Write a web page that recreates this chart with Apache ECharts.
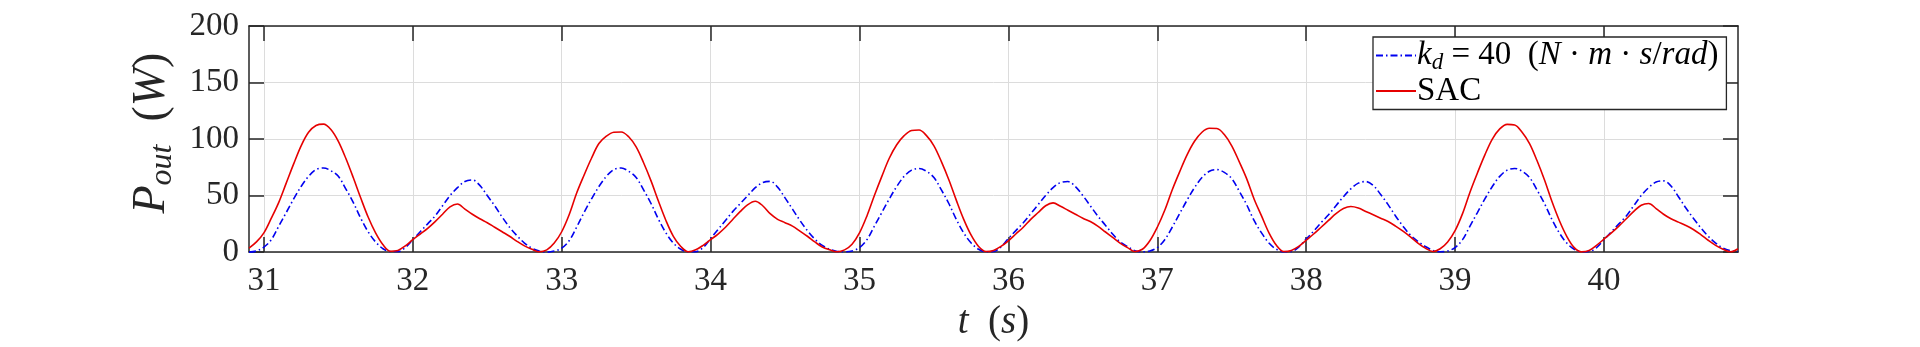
<!DOCTYPE html>
<html>
<head>
<meta charset="utf-8">
<script src="https://cdn.jsdelivr.net/npm/echarts@6/dist/echarts.min.js"></script>
<style>
html,body{margin:0;padding:0;background:#fff;}
#c{width:1920px;height:347px;}
</style>
</head>
<body>
<div id="c"></div>
<script>
// time samples (s)
const time = [
30.9,30.95,31,31.05,31.1,31.15,31.2,31.25,31.3,31.35,31.4,31.45,31.5,31.55,31.6,31.65,31.7,31.75,31.8,31.85,
31.9,31.95,32,32.05,32.1,32.15,32.2,32.25,32.3,32.35,32.4,32.45,32.5,32.55,32.6,32.65,32.7,32.75,32.8,32.85,
32.9,32.95,33,33.05,33.1,33.15,33.2,33.25,33.3,33.35,33.4,33.45,33.5,33.55,33.6,33.65,33.7,33.75,33.8,33.85,
33.9,33.95,34,34.05,34.1,34.15,34.2,34.25,34.3,34.35,34.4,34.45,34.5,34.55,34.6,34.65,34.7,34.75,34.8,34.85,
34.9,34.95,35,35.05,35.1,35.15,35.2,35.25,35.3,35.35,35.4,35.45,35.5,35.55,35.6,35.65,35.7,35.75,35.8,35.85,
35.9,35.95,36,36.05,36.1,36.15,36.2,36.25,36.3,36.35,36.4,36.45,36.5,36.55,36.6,36.65,36.7,36.75,36.8,36.85,
36.9,36.95,37,37.05,37.1,37.15,37.2,37.25,37.3,37.35,37.4,37.45,37.5,37.55,37.6,37.65,37.7,37.75,37.8,37.85,
37.9,37.95,38,38.05,38.1,38.15,38.2,38.25,38.3,38.35,38.4,38.45,38.5,38.55,38.6,38.65,38.7,38.75,38.8,38.85,
38.9,38.95,39,39.05,39.1,39.15,39.2,39.25,39.3,39.35,39.4,39.45,39.5,39.55,39.6,39.65,39.7,39.75,39.8,39.85,
39.9,39.95,40,40.05,40.1,40.15,40.2,40.25,40.3,40.35,40.4,40.45,40.5,40.55,40.6,40.65,40.7,40.75,40.8,40.85,
40.9
];
// P_out for k_d = 40 (W)
const kdPower = [
0,1,4.4,11,23,35,47,58,67,73,74.4,72,67,56,44,30,18,9,3,0.5,
0.5,4,11,18,25,32,41,50,57,62.5,63.8,59,50,41,31,22,14.5,8,3.5,1,
0,1,3.5,10,22,35,47,58,67,73,74.4,71.5,66,55,43,29,17,8,2.5,0.3,
0.3,4,12,20,28,36,43,50,57,61.5,62.6,57.5,48,38,28,19,11.5,6,2.5,0.6,
0.3,1,4,11,23,35,47,58,67,72.5,74,71.5,66,55,43,29,17,8,2.5,0.3,
0.5,4.5,12,19,26,34,42,50,57,61.5,62.4,58,50,41,32,24,16,9,5,1.2,
0.3,1,4,11,22,34,46,57,66,71.5,73,70.5,65,54,42,28,17,8,2.5,0.3,
0.5,4.5,11.5,18.5,26,33,41,49,56,61,62.4,59,51,42,32,23,15,9.5,5,1.5,
0.3,1,4,11,23,35,47,58,67,72.5,74,71.5,66,55,43,29,17,8,2.5,0.3,
0.5,4,11,18,25,32,41,50,57,62,63,58.5,49,39,30,21.5,14,8,3.5,1.2,
0.5
];
// P_out for SAC (W)
const sacPower = [
3.5,9,17,30,44,61,78,94,106,112,113.2,108.5,98,83,66,48,31,17,6.5,0.8,
1.5,5.5,11,16,21,27,33.5,40,42.5,38,33.5,29.5,26,22,18,14,9.5,5.5,2.5,0.3,
2,8,18,33,52,68,83,96,102.5,106,106.3,102,93,79,63,45,28,14,5,0.3,
2,6,11,16,22,29,36,42,45,41,34,29,26,23,18.5,14,9,4.5,2,0.3,
2,7,17,32,50,67,83,95,103,107.5,108,103,94,80,64,46,29,15,5,0.5,
1.5,5,10,16,22,29,35,41,43.5,40.5,37,33.5,30,27,23,18,13,8,4,0.5,
2.5,10,22,37,55,71,86,98,106,109.5,109.3,104,94,80,65,47,32,17,6,0.5,
1.5,5,10.5,16,22,28,34,38.5,40.3,39,36,33,30,27,23,18.5,13.5,8,3.5,0.5,
3,9,19,34,53,70,86,100,109,113,112.5,106,96,81,64,45,28,14,4,0.3,
1.5,6,11.5,17,23,29.5,36,41.5,43,38.5,33.5,29.5,26.5,23.5,20,15.5,10.5,6,2.5,0.3,
3
];
const xTicks = [31,32,33,34,35,36,37,38,39,40];
const yTicks = [0,50,100,150,200];
const seriesNames = ['kd40', 'SAC'];

const FONT = 'Liberation Serif';
const AX = '#262626';
const chart = echarts.init(document.getElementById('c'), null, {renderer: 'canvas'});
const pair = (arr) => time.map((t, i) => [t, arr[i]]);

const richMath = {
  i: {fontFamily: FONT, fontStyle: 'italic', fontSize: 33, color: '#000'},
  n: {fontFamily: FONT, fontSize: 33, color: '#000'},
  sub: {fontFamily: FONT, fontStyle: 'italic', fontSize: 23, color: '#000', padding: [15, 0, 0, 0]}
};

const option = {
  animation: false,
  grid: {left: 249, right: 182, top: 26, bottom: 94, containLabel: false},
  xAxis: [{
    type: 'value', min: 30.9, max: 40.9,
    name: '{i|t}{n|  (}{i|s}{n|)}',
    nameLocation: 'middle', nameGap: 50,
    nameTextStyle: {rich: {
      i: {fontFamily: FONT, fontStyle: 'italic', fontSize: 39, color: AX},
      n: {fontFamily: FONT, fontSize: 39, color: AX}
    }},
    axisLine: {show: true, onZero: false, lineStyle: {color: AX, width: 1.5}},
    axisTick: {show: true, inside: true, length: 15, customValues: xTicks, lineStyle: {color: AX, width: 1.5}},
    axisLabel: {show: true, customValues: xTicks, margin: 13, fontFamily: FONT, fontSize: 33, color: AX},
    splitLine: {show: true, lineStyle: {color: '#dcdcdc', width: 1}}
  }, {
    type: 'value', min: 30.9, max: 40.9, position: 'top',
    axisLine: {show: true, onZero: false, lineStyle: {color: AX, width: 1.5}},
    axisTick: {show: true, inside: true, length: 15, customValues: xTicks, lineStyle: {color: AX, width: 1.5}},
    axisLabel: {show: false},
    splitLine: {show: false}
  }],
  yAxis: [{
    type: 'value', min: 0, max: 200, interval: 50,
    name: '{i|P}{sub|out}{n|  (}{i|W}{n|)}',
    nameLocation: 'middle', nameGap: 58,
    nameTextStyle: {padding: [0, 0, 0, 12], rich: {
      i: {fontFamily: FONT, fontStyle: 'italic', fontSize: 46, color: AX},
      n: {fontFamily: FONT, fontSize: 46, color: AX},
      sub: {fontFamily: FONT, fontStyle: 'italic', fontSize: 32, color: AX, padding: [22, 0, 0, 0]}
    }},
    axisLine: {show: true, onZero: false, lineStyle: {color: AX, width: 1.5}},
    axisTick: {show: true, inside: true, length: 15, lineStyle: {color: AX, width: 1.5}},
    axisLabel: {show: true, margin: 10, fontFamily: FONT, fontSize: 33, color: AX,
      formatter: (v) => yTicks.includes(v) ? String(v) : ''},
    splitLine: {show: true, lineStyle: {color: '#dcdcdc', width: 1}}
  }, {
    type: 'value', min: 0, max: 200, interval: 50, position: 'right',
    axisLine: {show: true, onZero: false, lineStyle: {color: AX, width: 1.5}},
    axisTick: {show: true, inside: true, length: 15, lineStyle: {color: AX, width: 1.5}},
    axisLabel: {show: false},
    splitLine: {show: false}
  }],
  legend: {
    orient: 'vertical', left: 1373, top: 37,
    itemWidth: 40, itemHeight: 12, itemGap: 0,
    padding: [2, 8, 2, 2],
    backgroundColor: '#fff', borderColor: AX, borderWidth: 1.3, borderRadius: 0,
    itemStyle: {opacity: 0},
    data: seriesNames,
    formatter: (name) => name === 'kd40'
      ? '{i|k}{sub|d}{n| = 40  (}{i|N}{n| · }{i|m}{n| · }{i|s}{n|/}{i|rad}{n|)}'
      : '{n|SAC}',
    textStyle: {fontFamily: FONT, fontSize: 33, color: '#000', padding: [0, 0, 0, -4], rich: richMath}
  },
  series: [{
    name: 'kd40', type: 'line', data: pair(kdPower), xAxisIndex: 0, yAxisIndex: 0,
    symbol: 'none', smooth: 0.35, clip: true,
    lineStyle: {color: '#0000f0', width: 1.6, type: [7, 3, 1.5, 3]},
    itemStyle: {color: '#0000f0'}
  }, {
    name: 'SAC', type: 'line', data: pair(sacPower), xAxisIndex: 0, yAxisIndex: 0,
    symbol: 'none', smooth: 0.35, clip: true,
    lineStyle: {color: '#e60000', width: 1.6},
    itemStyle: {color: '#e60000'}
  }]
};
chart.setOption(option);
</script>
</body>
</html>
